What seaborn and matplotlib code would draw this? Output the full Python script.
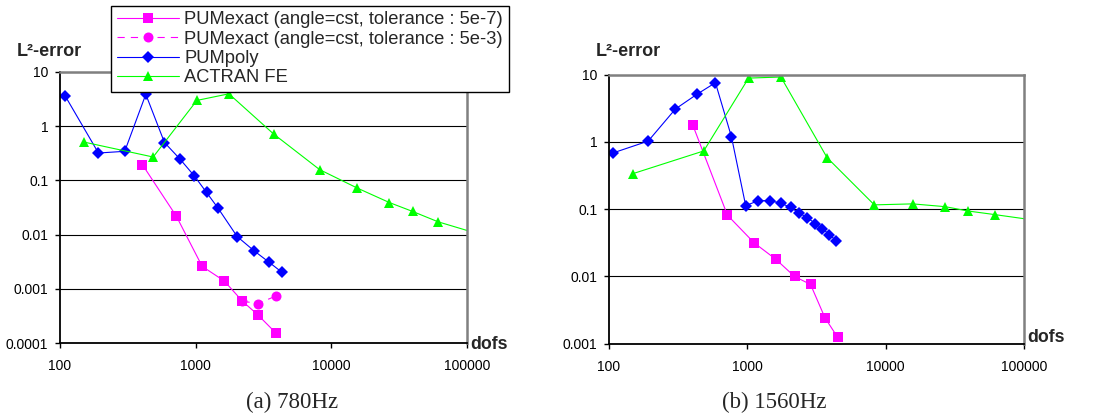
import numpy as np
import pandas as pd
import matplotlib
matplotlib.use("Agg")
import matplotlib.pyplot as plt
import seaborn as sns

# ---------------- data ----------------
# (a) 780 Hz
a_exact7_x = [405, 721, 1117, 1622, 2213, 2874, 3880]
a_exact7_y = [0.195, 0.0218, 0.00259, 0.0014, 0.00059, 0.00033, 0.000155]
a_exact3_x = [2213, 2874, 3880]
a_exact3_y = [0.00059, 0.000535, 0.00073]
a_poly_x = [109, 192, 300, 429, 589, 769, 980, 1202, 1459, 2023, 2702, 3470, 4345]
a_poly_y = [3.64, 0.32, 0.344, 3.87, 0.50, 0.245, 0.12, 0.06, 0.031, 0.0092, 0.005, 0.0031, 0.002]
a_actran_x = [150, 486, 1021, 1758, 3750, 8200, 15570, 26800, 39800, 61300, 130000]
a_actran_y = [0.51, 0.27, 2.99, 3.96, 0.72, 0.158, 0.072, 0.039, 0.0267, 0.0172, 0.0098]

# (b) 1560 Hz
b_exact7_x = [403, 718, 1120, 1607, 2193, 2864, 3640, 4490]
b_exact7_y = [1.79, 0.0815, 0.0316, 0.018, 0.010, 0.0076, 0.00243, 0.00125]
b_poly_x = [107, 192, 302, 431, 588, 768, 973, 1202, 1455, 1748, 2055, 2360, 2715, 3100, 3487, 3915, 4400]
b_poly_y = [0.687, 1.03, 3.09, 5.1, 7.6, 1.19, 0.113, 0.134, 0.134, 0.123, 0.106, 0.088, 0.075, 0.061, 0.0515, 0.042, 0.0338]
b_actran_x = [149, 484, 1021, 1748, 3770, 8280, 15660, 27000, 39400, 61800, 130000]
b_actran_y = [0.338, 0.735, 8.9, 9.24, 0.585, 0.116, 0.12, 0.109, 0.094, 0.083, 0.067]

labels = ["PUMexact (angle=cst, tolerance : 5e-7)",
          "PUMexact (angle=cst, tolerance : 5e-3)",
          "PUMpoly",
          "ACTRAN FE"]
x_ticks = [100, 1000, 10000, 100000]
x_ticklabels = ["100", "1000", "10000", "100000"]
a_yticks = [1e-4, 1e-3, 1e-2, 1e-1, 1, 10]
a_yticklabels = ["0.0001", "0.001", "0.01", "0.1", "1", "10"]
b_yticks = [1e-3, 1e-2, 1e-1, 1, 10]
b_yticklabels = ["0.001", "0.01", "0.1", "1", "10"]
subtitles = ["(a) 780Hz", "(b) 1560Hz"]

# ---------------- style ----------------
sns.set_style("white")
plt.rcParams["font.family"] = ["Liberation Sans", "DejaVu Sans"]

MAG = "#FF00FF"
BLUE = "#0000FF"
GREEN = "#00FF00"

W, H = 1096, 415
fig = plt.figure(figsize=(W / 100, H / 100), dpi=100)

def fx(px):
    return px / W

def fy(py):
    return 1 - py / H

axA = fig.add_axes([fx(60), fy(343), fx(467 - 60), (343 - 72) / H])
axB = fig.add_axes([fx(609), fy(343.7), fx(1024 - 609), (343.7 - 74.7) / H])


def series(ax, x, y, color, marker, ms, label, ls="-"):
    df = pd.DataFrame({"dofs": x, "err": y})
    sns.lineplot(data=df, x="dofs", y="err", ax=ax, color=color, marker=marker,
                 markersize=ms, markeredgecolor=color, markeredgewidth=0,
                 linewidth=0.8, linestyle=ls, label=label, estimator=None,
                 sort=False)


for ax in (axA, axB):
    ax.set_xscale("log")
    ax.set_yscale("log")

series(axA, a_exact7_x, a_exact7_y, MAG, "s", 6.8, labels[0])
series(axA, a_exact3_x, a_exact3_y, MAG, "o", 7.2, labels[1], ls=(0, (6.5, 5.5)))
series(axA, a_poly_x, a_poly_y, BLUE, "D", 5.8, labels[2])
series(axA, a_actran_x, a_actran_y, GREEN, "^", 7.6, labels[3])

series(axB, b_exact7_x, b_exact7_y, MAG, "s", 6.8, labels[0])
series(axB, b_poly_x, b_poly_y, BLUE, "D", 5.8, labels[2])
series(axB, b_actran_x, b_actran_y, GREEN, "^", 7.6, labels[3])

handles, labs = axA.get_legend_handles_labels()
for ax in (axA, axB):
    if ax.get_legend() is not None:
        ax.get_legend().remove()

for ax, yt, ytl, ylo in ((axA, a_yticks, a_yticklabels, 1e-4),
                         (axB, b_yticks, b_yticklabels, 1e-3)):
    ax.set_xlim(100, 100000)
    ax.set_ylim(ylo, 10)
    ax.xaxis.set_major_locator(matplotlib.ticker.FixedLocator(x_ticks))
    ax.xaxis.set_major_formatter(matplotlib.ticker.FixedFormatter(x_ticklabels))
    ax.xaxis.set_minor_locator(matplotlib.ticker.NullLocator())
    ax.yaxis.set_major_locator(matplotlib.ticker.FixedLocator(yt))
    ax.yaxis.set_major_formatter(matplotlib.ticker.FixedFormatter(ytl))
    ax.yaxis.set_minor_locator(matplotlib.ticker.NullLocator())
    ax.set_xlabel("")
    ax.set_ylabel("")
    ax.yaxis.grid(True, color="black", linewidth=0.8)
    ax.xaxis.grid(False)
    ax.set_axisbelow(True)
    ax.tick_params(axis="both", which="major", direction="out", length=3.5,
                   width=1, color="black", labelsize=10, labelcolor="black",
                   left=True, bottom=True)
    ax.tick_params(axis="y", pad=5)
    ax.tick_params(axis="x", pad=8)
    for s in ("left", "bottom"):
        ax.spines[s].set_color("black")
        ax.spines[s].set_linewidth(1.3)
    for s in ("top", "right"):
        ax.spines[s].set_color("#808080")
        ax.spines[s].set_linewidth(1.8)

leg = fig.legend(handles, labs, loc="upper left",
                 bbox_to_anchor=(fx(111), fy(5.7)), borderaxespad=0,
                 fontsize=13.2, frameon=True, fancybox=False, framealpha=1,
                 edgecolor="black", borderpad=0.3, labelspacing=0.13,
                 handlelength=3.4, handletextpad=0.3)
leg.get_frame().set_linewidth(1.0)

# y-axis titles and x-axis "dofs"
fig.text(fx(16.7), fy(52), "L\u00b2-error", fontsize=13, fontweight="bold",
         ha="left", va="center")
fig.text(fx(595.7), fy(52), "L\u00b2-error", fontsize=13, fontweight="bold",
         ha="left", va="center")
fig.text(fx(470.5), fy(344), "dofs", fontsize=12.8, fontweight="bold",
         ha="left", va="center")
fig.text(fx(1027), fy(337), "dofs", fontsize=12.8, fontweight="bold",
         ha="left", va="center")

# subtitles
fig.text(fx(292), fy(402), subtitles[0], fontsize=16.5,
         family=["Liberation Serif", "DejaVu Serif"], ha="center", va="center")
fig.text(fx(774), fy(402), subtitles[1], fontsize=16.5,
         family=["Liberation Serif", "DejaVu Serif"], ha="center", va="center")

fig.savefig("out.png", dpi=100)
